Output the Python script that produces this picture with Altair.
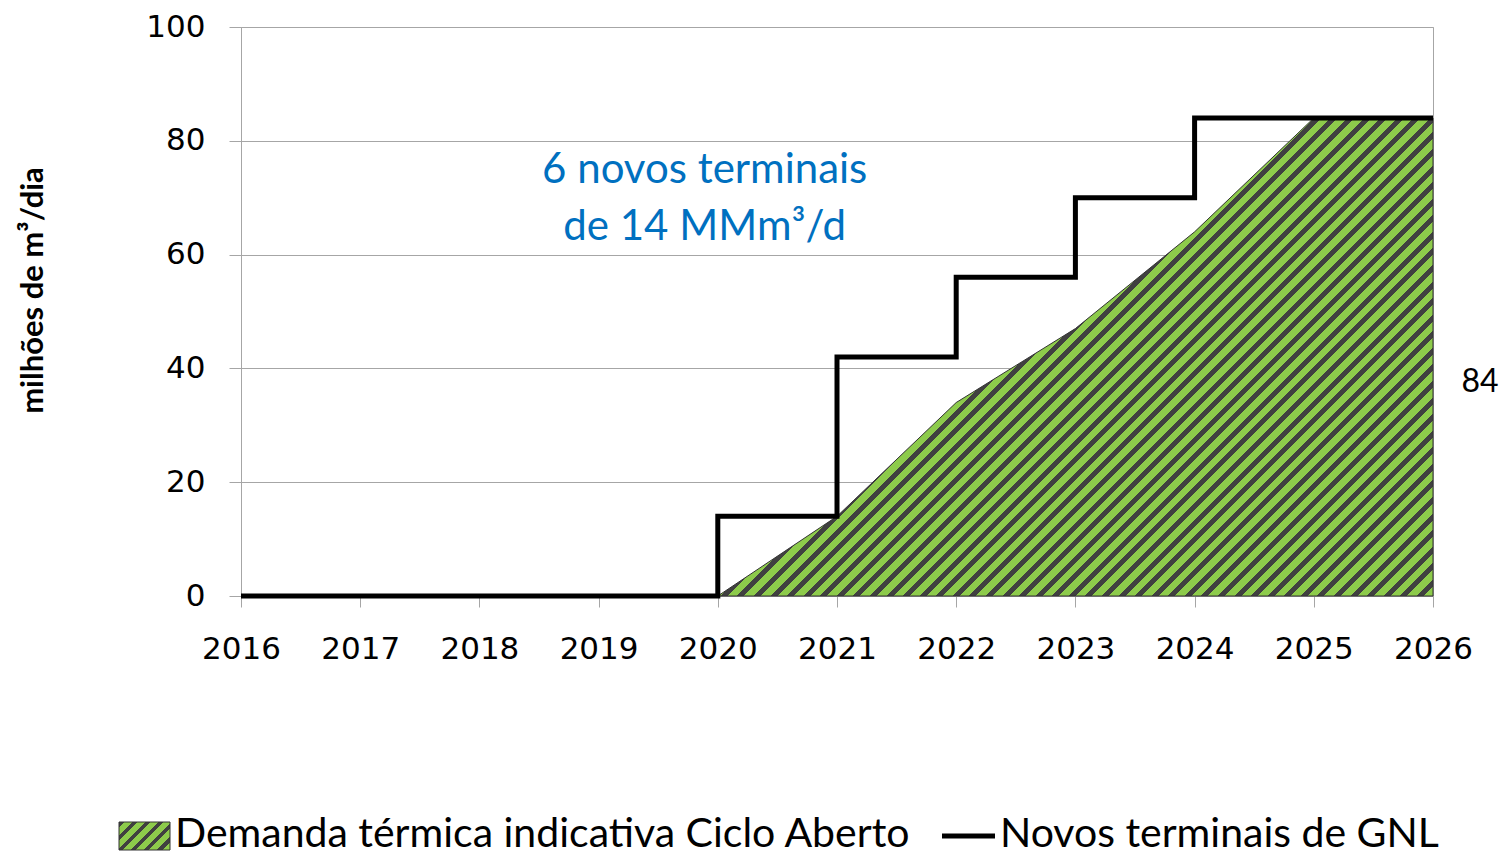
import altair as alt
import pandas as pd

# ---------------- data ----------------
years = [2016, 2017, 2018, 2019, 2020, 2021, 2022, 2023, 2024, 2025, 2026]
terminais = [0, 0, 0, 0, 14, 42, 56, 70, 84, 84, 84]
demanda_years = [2020, 2021, 2022, 2023, 2024, 2025, 2026]
demanda = [0, 14, 34, 47, 64, 84, 84]
y_ticks = [0, 20, 40, 60, 80, 100]

annot_lines = ["6 novos terminais", "de 14 MMm³/d"]
annot_x = [2019.89, 2019.89]
annot_y = [72.6, 62.6]

value_label = ["84"]
value_label_x = [2026]
value_label_y = [35.9]

legend_labels = ["Demanda térmica indicativa Ciclo Aberto", "Novos terminais de GNL"]
y_title = "milhões de m³/dia"

# ---------------- layout / style ----------------
W, H = 1192, 569
GREEN = "#8DCB4B"
DARK = "#404040"
GRID = "#A6A6A6"
BLUE = "#0070C0"


def stripes(bw, bh, period_x, period_y, dark_frac=0.42):
    """Diagonal hatch (rising to the right) as a linear gradient over a bbox of bw x bh px."""
    a = bw / period_x
    b = bh / period_y
    s = (a + b) / (a * a + b * b)
    n = max(1, round(a + b))
    stops = []
    for i in range(n):
        o0 = round(i / n, 6)
        o1 = round((i + dark_frac) / n, 6)
        o2 = round((i + 1) / n, 6)
        stops += [
            {"offset": o0, "color": DARK},
            {"offset": o1, "color": DARK},
            {"offset": o1, "color": GREEN},
            {"offset": o2, "color": GREEN},
        ]
    return {"gradient": "linear", "x1": 0, "y1": 0, "x2": s * a, "y2": s * b, "stops": stops}


df_line = pd.DataFrame({"ano": years, "valor": terminais})
df_area = pd.DataFrame({"ano": demanda_years, "valor": demanda})
df_annot = pd.DataFrame({"ano": annot_x, "valor": annot_y, "texto": annot_lines})
df_lab = pd.DataFrame({"ano": value_label_x, "valor": value_label_y, "texto": value_label})

x_enc = alt.X(
    "ano:Q",
    scale=alt.Scale(domain=[years[0], years[-1]], nice=False),
    axis=alt.Axis(
        values=years, format="d", title=None, grid=False,
        labelFont="DejaVu Sans", labelFontSize=31, labelColor="#000000",
        labelPadding=27, tickSize=11, tickColor=GRID, domainColor=GRID,
        labelFlush=False,
    ),
)
y_enc = alt.Y(
    "valor:Q",
    scale=alt.Scale(domain=[0, 100], nice=False),
    axis=alt.Axis(
        values=y_ticks, title=y_title, grid=True, gridColor=GRID,
        labelFont="DejaVu Sans", labelFontSize=31, labelColor="#000000",
        labelPadding=24, tickSize=12, tickColor=GRID, domainColor=GRID,
        titleFont="Lato", titleFontSize=31, titleFontWeight="bold",
        titleColor="#000000", titleX=-208, titleY=263, titleAngle=270,
        titleAlign="center", titleBaseline="middle",
    ),
)

area_bw = (demanda_years[-1] - demanda_years[0]) / (years[-1] - years[0]) * W
area_bh = max(demanda) / 100 * H

area = alt.Chart(df_area).mark_area(
    fill=stripes(area_bw, area_bh, 16.5, 16.5, 0.42), stroke="#333333", strokeWidth=1
).encode(x=x_enc, y=y_enc)

line = alt.Chart(df_line).mark_line(
    interpolate="step-after", color="#000000", strokeWidth=5, strokeJoin="miter"
).encode(x="ano:Q", y="valor:Q")

annot = alt.Chart(df_annot).mark_text(
    font="Lato", fontSize=42, color=BLUE, align="center", baseline="alphabetic"
).encode(x="ano:Q", y="valor:Q", text="texto:N")

lab = alt.Chart(df_lab).mark_text(
    font="Lato", fontSize=32, color="#000000", align="center", baseline="alphabetic", dx=47
).encode(x="ano:Q", y="valor:Q", text="texto:N")

# ---------------- legend ----------------
leg_df = pd.DataFrame({"k": [0]})
leg_swatch = alt.Chart(leg_df).mark_rect(
    fill=stripes(51, 28, 14, 14, 0.4), stroke="#333333", strokeWidth=1
).encode(x=alt.value(-122), x2=alt.value(-71), y=alt.value(795), y2=alt.value(823))
leg_text1 = alt.Chart(leg_df).mark_text(
    font="Lato", fontSize=41, color="#000000", align="left", baseline="alphabetic"
).encode(x=alt.value(-66), y=alt.value(820), text=alt.value(legend_labels[0]))
leg_line = alt.Chart(leg_df).mark_rule(color="#000000", strokeWidth=5).encode(
    x=alt.value(701), x2=alt.value(754), y=alt.value(809)
)
leg_text2 = alt.Chart(leg_df).mark_text(
    font="Lato", fontSize=41, color="#000000", align="left", baseline="alphabetic"
).encode(x=alt.value(759), y=alt.value(820), text=alt.value(legend_labels[1]))

chart = alt.layer(
    area, line, annot, lab, leg_swatch, leg_text1, leg_line, leg_text2
).properties(
    width=W, height=H,
    autosize=alt.AutoSizeParams(type="none"),
    padding={"left": 241, "top": 27, "right": 70, "bottom": 263},
    background="#FFFFFF",
).configure_view(stroke=GRID, strokeWidth=1)

chart.save("out.html", embed_options={"renderer": "svg", "actions": False})
